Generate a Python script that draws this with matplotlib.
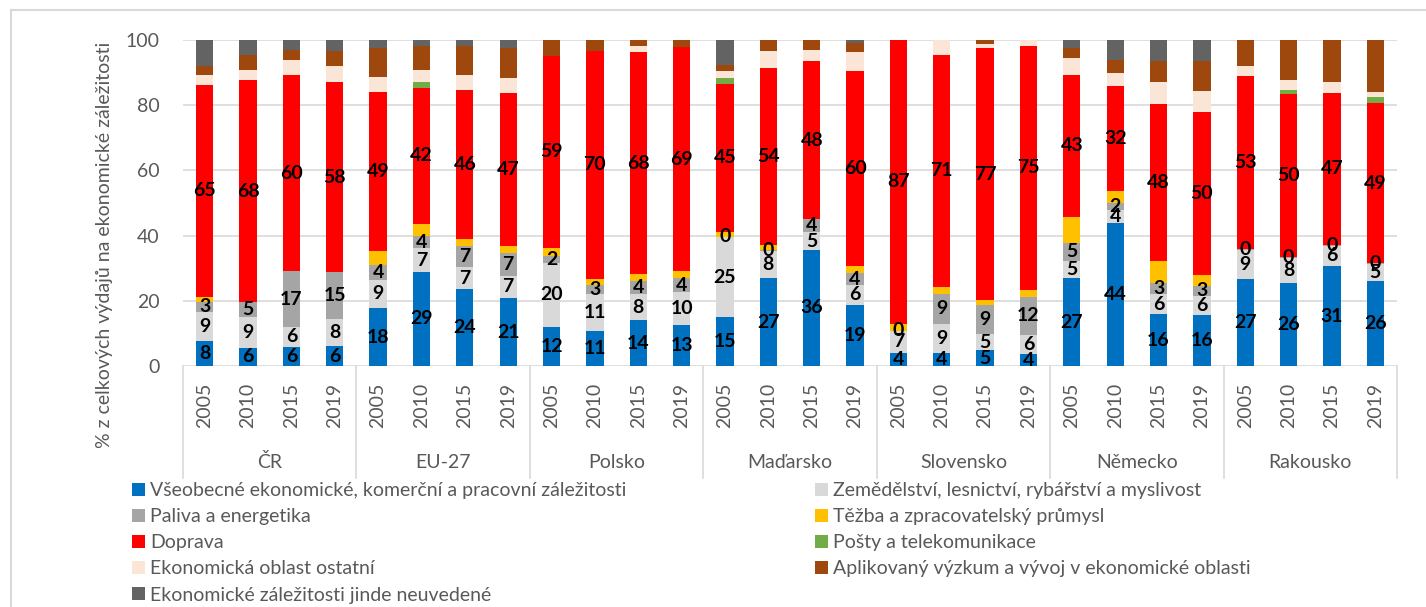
import numpy as np
import matplotlib
matplotlib.use("Agg")
import matplotlib.pyplot as plt
from matplotlib.lines import Line2D
import matplotlib.transforms as mtransforms

plt.rcParams['font.family'] = ['Lato', 'DejaVu Sans']

# === DATA ====================================================================
countries = ["ČR", "EU-27", "Polsko", "Maďarsko", "Slovensko", "Německo", "Rakousko"]
years = ["2005", "2010", "2015", "2019"]

vseobecne = [7.6, 5.6, 5.8, 6.1, 17.7, 28.9, 23.6, 20.8,
             12.0, 10.8, 14.0, 12.6, 14.9, 26.9, 35.6, 18.8,
             4.1, 4.1, 4.8, 3.6, 26.9, 43.8, 15.8, 15.6,
             26.6, 25.6, 30.6, 26.1]
zemedelstvi = [9.0, 9.3, 6.3, 8.2, 8.8, 7.2, 6.7, 6.9,
               19.6, 11.2, 8.1, 10.0, 24.6, 8.4, 5.4, 6.0,
               6.6, 8.9, 5.1, 5.9, 5.4, 4.2, 6.3, 5.9,
               9.1, 7.6, 6.3, 5.2]
paliva = [3.1, 4.6, 16.9, 14.6, 4.4, 3.7, 6.6, 6.9,
          2.2, 2.9, 3.9, 4.3, 0.2, 0.3, 4.1, 3.6,
          0.1, 9.0, 8.9, 11.8, 5.4, 2.0, 3.3, 3.1,
          0.2, 0.2, 0.2, 0.2]
tezba = [1.5, 0.0, 0.0, 0.0, 4.4, 3.7, 2.1, 2.3,
         2.5, 1.8, 2.1, 2.1, 1.5, 1.4, 0.0, 2.4,
         2.1, 2.3, 1.5, 2.0, 8.1, 3.8, 6.7, 3.3,
         0.0, 0.0, 0.0, 0.0]
doprava = [65.0, 68.2, 60.2, 58.1, 48.9, 41.9, 45.8, 46.9,
           58.9, 70.0, 68.3, 68.9, 45.4, 54.4, 48.4, 59.8,
           87.1, 71.2, 77.1, 74.9, 43.4, 32.0, 48.4, 50.1,
           53.0, 50.0, 46.7, 49.1]
posty = [0.0, 0.0, 0.0, 0.0, 0.0, 1.8, 0.0, 0.0,
         0.0, 0.0, 0.0, 0.0, 1.8, 0.0, 0.0, 0.0,
         0.0, 0.0, 0.0, 0.0, 0.0, 0.0, 0.0, 0.0,
         0.0, 1.4, 0.0, 1.8]
ostatni = [3.0, 3.1, 4.6, 5.0, 4.6, 3.6, 4.4, 4.6,
           0.0, 0.0, 1.9, 0.0, 2.1, 5.2, 3.3, 5.8,
           0.0, 4.5, 1.4, 1.8, 5.4, 4.1, 6.5, 6.3,
           3.2, 3.0, 3.2, 1.7]
vyzkum = [2.9, 4.6, 3.1, 4.7, 8.8, 7.5, 9.0, 9.2,
          4.8, 3.3, 2.1, 2.1, 1.9, 3.3, 3.1, 2.6,
          0.0, 0.0, 1.2, 0.0, 2.8, 4.1, 6.5, 9.3,
          7.8, 12.3, 13.0, 15.9]
jinde = [7.9, 4.6, 3.1, 3.3, 2.3, 1.7, 2.0, 2.4,
         0.0, 0.0, 0.0, 0.0, 7.5, 0.0, 0.0, 1.0,
         0.0, 0.0, 0.0, 0.0, 2.6, 6.0, 6.5, 6.4,
         0.0, 0.0, 0.0, 0.0]

series = [
    ("Všeobecné ekonomické, komerční a pracovní záležitosti", vseobecne, "#0070C0", True),
    ("Zemědělství, lesnictví, rybářství a myslivost", zemedelstvi, "#D9D9D9", True),
    ("Paliva a energetika", paliva, "#A5A5A5", True),
    ("Těžba a zpracovatelský průmysl", tezba, "#FFC000", False),
    ("Doprava", doprava, "#FF0000", True),
    ("Pošty a telekomunikace", posty, "#70AD47", False),
    ("Ekonomická oblast ostatní", ostatni, "#FBE5D6", False),
    ("Aplikovaný výzkum a vývoj v ekonomické oblasti", vyzkum, "#9E480E", False),
    ("Ekonomické záležitosti jinde neuvedené", jinde, "#636363", False),
]

TXT = "#595959"
GRID = "#D9D9D9"

# === PLOT ====================================================================
W, H = 1426, 607
fig = plt.figure(figsize=(W / 100, H / 100), dpi=100)
ax = fig.add_axes([183 / W, 1 - 366 / H, (1397 - 183) / W, 326 / H])

n = len(countries) * len(years)
x = np.arange(n)
bottom = np.zeros(n)
handles = []
for name, vals, color, labeled in series:
    vals = np.array(vals)
    bars = ax.bar(x, vals, 0.4, bottom=bottom, color=color, label=name, zorder=3)
    if labeled:
        ax.bar_label(bars, labels=[f"{v:.0f}" for v in vals], label_type="center",
                     fontsize=14, fontweight="bold", color="black", zorder=4)
    handles.append(bars)
    bottom += vals

ax.set_xlim(-0.5, n - 0.5)
ax.set_ylim(0, 100)
ax.set_yticks(range(0, 101, 20))
ax.tick_params(axis="y", length=0, pad=17, labelsize=14, labelcolor=TXT)
ax.set_xticks(x)
ax.set_xticklabels(years * len(countries), rotation=90)
ax.tick_params(axis="x", length=0, pad=12, labelsize=14, labelcolor=TXT)
ax.yaxis.grid(True, color=GRID, lw=1.2, zorder=0)
for s in ax.spines.values():
    s.set_visible(False)

# category axis: group separators and group names
trans = mtransforms.blended_transform_factory(ax.transData, ax.transAxes)
for i in range(len(countries) + 1):
    b = i * len(years) - 0.5
    ax.plot([b, b], [0, -0.345], transform=trans, clip_on=False, color=GRID, lw=1.2)
for i, c in enumerate(countries):
    ax.text(i * len(years) + 1.5, -0.295, c, transform=trans, ha="center",
            va="center", fontsize=14, color=TXT)

fig.text(105 / W, 1 - 245 / H, "% z celkových výdajů na ekonomické záležitosti",
         rotation=90, ha="center", va="center", fontsize=14, color=TXT)

# legend, two columns filled row by row
leg_kw = dict(frameon=False, fontsize=14, labelcolor=TXT, handlelength=0.65,
              handleheight=0.65, handletextpad=0.3, labelspacing=0.47,
              borderaxespad=0, borderpad=0)
leg1 = fig.legend(handles[0::2], [s[0] for s in series[0::2]], loc="upper left",
                  bbox_to_anchor=(132 / W, 1 - 482 / H), **leg_kw)
leg2 = fig.legend(handles[1::2], [s[0] for s in series[1::2]], loc="upper left",
                  bbox_to_anchor=(815 / W, 1 - 482 / H), **leg_kw)

# chart area frame
fig.add_artist(Line2D([11 / W, 11 / W], [0, 1 - 10 / H], color=GRID, lw=1.5))
fig.add_artist(Line2D([11 / W, 1], [1 - 10 / H, 1 - 10 / H], color=GRID, lw=1.5))

fig.savefig("out.png", dpi=100)
